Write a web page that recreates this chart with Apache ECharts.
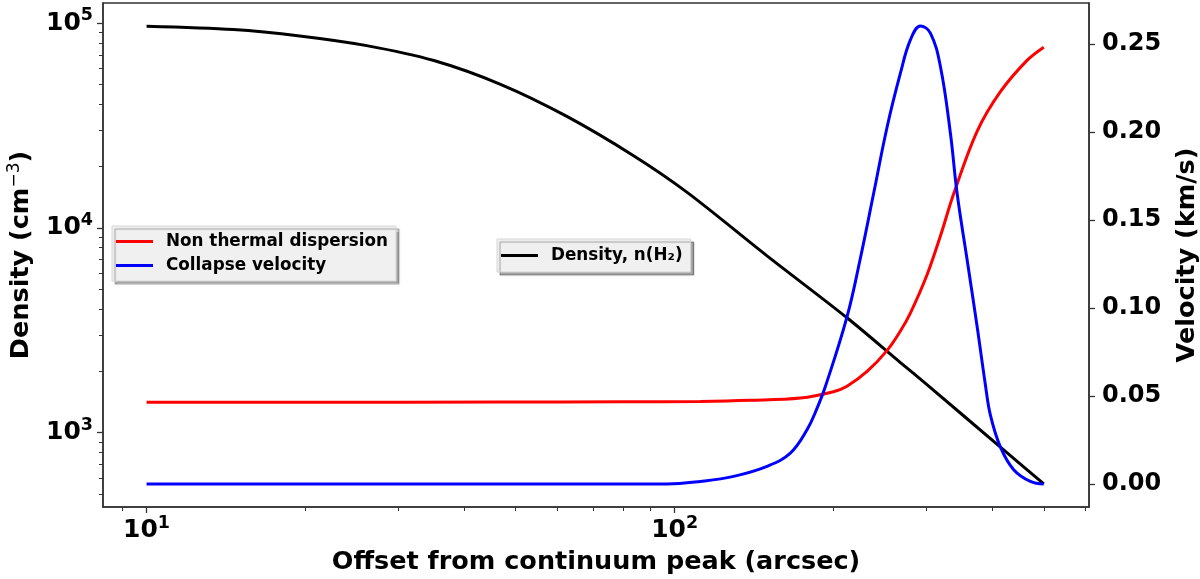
<!DOCTYPE html>
<html lang="en">
<head>
    <meta charset="UTF-8">
    <title>Density and velocity profile</title>
    <script src="https://cdn.jsdelivr.net/npm/echarts@6/dist/echarts.min.js"></script>
    <style>
        *{
            margin: 0;
            padding: 0;
        }
        html,body{
            width: 100%;
            height: 100%;
            background: #fff;
        }
        .main{
            width: 1200px;
            height: 579px;
        }
    </style>
</head>
<body>
<div class="main"></div>
<script>
    // values (offset in arcsec)
    let densityR = [10, 14.6, 19.5, 26.1, 35, 46.8, 62.5, 83.6, 105.6, 149.6, 212, 267.6, 298.5, 413.9, 500];
    let densityN = [96400, 92900, 86500, 77600, 65600, 50200, 35000, 22500, 14900, 7300, 3640, 2200, 1740, 850, 562];

    let dispR = [10, 20, 46.8, 80, 111.9, 139.1, 173, 199.8, 212, 231.4, 252.6, 267.6, 279.5, 300.6, 318.6, 337.6, 373.9, 413.9, 464.9, 500];
    let dispV = [0.0465, 0.0465, 0.0466, 0.0468, 0.0470, 0.0476, 0.0489, 0.0525, 0.0556, 0.0640, 0.0760, 0.0870, 0.0972, 0.1190, 0.1410, 0.1650, 0.2005, 0.2230, 0.2408, 0.2483];

    let collR = [10, 30, 60, 96.7, 111.9, 129.3, 149.6, 165.6, 178.2, 186.1, 193, 212, 224.8, 238.2, 252.6, 267.6, 279.5, 292, 305, 318.6, 332.8, 342.6, 358, 373.9, 387.6, 396.3, 413.9, 438.5, 471.7, 500];
    let collV = [0, 0, 0, 0, 0.0015, 0.0044, 0.0101, 0.0176, 0.0310, 0.0432, 0.0556, 0.0950, 0.1285, 0.1654, 0.2031, 0.2335, 0.2524, 0.2604, 0.2563, 0.2373, 0.1994, 0.1654, 0.1274, 0.0896, 0.0565, 0.0390, 0.0210, 0.0082, 0.0015, 0];

    let xMajor = [10, 100];
    let xMinor = [9, 20, 30, 40, 50, 60, 70, 80, 90, 200, 300, 400, 500, 600];
    let yMajor = [1000, 10000, 100000];
    let yMinor = [500, 600, 700, 800, 900, 2000, 3000, 4000, 5000, 6000, 7000, 8000, 9000,
        20000, 30000, 40000, 50000, 60000, 70000, 80000, 90000];
    let vTicks = [0, 0.05, 0.10, 0.15, 0.20, 0.25];

    let zip = (a, b) => a.map((v, i) => [v, b[i]]);

    let font = 'DejaVu Sans';
    let axisColor = '#333';
    let powLabel = v => '{b|10}{s|' + Math.round(Math.log10(v)) + '}';
    let powRich = {
        b: {fontFamily: font, fontWeight: 'bold', fontSize: 25, color: '#000'},
        s: {fontFamily: font, fontWeight: 'bold', fontSize: 17.5, color: '#000', padding: [0, 0, 15, 0]}
    };

    let main = echarts.init(document.getElementsByClassName('main')[0]);
    let legendBase = {
        orient: 'vertical',
        icon: 'rect',
        itemWidth: 37,
        itemHeight: 3,
        itemGap: 7,
        backgroundColor: '#f0f0f0',
        borderColor: '#d6d6d6',
        borderWidth: 1,
        shadowColor: 'rgba(0,0,0,0.35)',
        shadowBlur: 1,
        shadowOffsetX: 3,
        shadowOffsetY: 3,
        selectedMode: false,
        textStyle: {
            fontFamily: font,
            fontWeight: 'bold',
            fontSize: 16.8,
            lineHeight: 17,
            color: '#000',
            padding: [0, 0, 0, 8]
        }
    };
    let option = {
        animation: false,
        backgroundColor: '#fff',
        grid: {
            left: 103,
            right: 111,
            top: 3,
            bottom: 72,
            outerBoundsMode: 'none',
            containLabel: false,
            show: true,
            borderColor: axisColor,
            borderWidth: 1.5
        },
        legend: [
            Object.assign({}, legendBase, {
                data: ['Non thermal dispersion', 'Collapse velocity'],
                left: 112,
                top: 226,
                padding: [7, 8, 7, 4]
            }),
            Object.assign({}, legendBase, {
                data: ['Density, n(H₂)'],
                left: 497,
                top: 239,
                padding: [8, 8, 8, 4]
            })
        ],
        xAxis: [
            {
                type: 'log',
                logBase: 10,
                min: 8.27,
                max: 609,
                position: 'bottom',
                axisLine: {show: true, onZero: false, lineStyle: {color: axisColor, width: 1.5}},
                axisTick: {show: true, length: 6, customValues: xMajor, lineStyle: {color: axisColor, width: 1.3}},
                axisLabel: {customValues: xMajor, formatter: powLabel, rich: powRich, margin: 7},
                splitLine: {show: false},
                name: 'Offset from continuum peak (arcsec)',
                nameLocation: 'middle',
                nameGap: 42,
                nameTextStyle: {fontFamily: font, fontWeight: 'bold', fontSize: 25.5, color: '#000'}
            },
            {
                type: 'log',
                logBase: 10,
                min: 8.27,
                max: 609,
                position: 'bottom',
                axisLine: {show: false, onZero: false},
                axisTick: {show: true, length: 4, customValues: xMinor, lineStyle: {color: axisColor, width: 1}},
                axisLabel: {show: false},
                splitLine: {show: false}
            }
        ],
        yAxis: [
            {
                type: 'log',
                logBase: 10,
                min: 433.6,
                max: 125300,
                position: 'left',
                axisLine: {show: true, onZero: false, lineStyle: {color: axisColor, width: 1.5}},
                axisTick: {show: true, length: 6, customValues: yMajor, lineStyle: {color: axisColor, width: 1.3}},
                axisLabel: {customValues: yMajor, formatter: powLabel, rich: powRich, margin: 10},
                splitLine: {show: false},
                name: '{t|Density (cm}{s|−3}{t|)}',
                nameLocation: 'middle',
                nameGap: 66,
                nameRotate: 90,
                nameTextStyle: {
                    rich: {
                        t: {fontFamily: font, fontWeight: 'bold', fontSize: 25.5, color: '#000'},
                        s: {fontFamily: font, fontSize: 17, color: '#000', padding: [0, 0, 14, 0]}
                    }
                }
            },
            {
                type: 'value',
                min: -0.01302,
                max: 0.2734,
                position: 'right',
                axisLine: {show: true, onZero: false, lineStyle: {color: axisColor, width: 1.5}},
                axisTick: {show: true, length: 6, customValues: vTicks, lineStyle: {color: axisColor, width: 1.3}},
                axisLabel: {
                    customValues: vTicks,
                    formatter: v => v.toFixed(2),
                    margin: 13,
                    fontFamily: font,
                    fontWeight: 'bold',
                    fontSize: 24,
                    color: '#000'
                },
                splitLine: {show: false},
                name: 'Velocity (km/s)',
                nameLocation: 'middle',
                nameGap: 85,
                nameRotate: 90,
                nameTextStyle: {fontFamily: font, fontWeight: 'bold', fontSize: 25.5, color: '#000'}
            },
            {
                type: 'log',
                logBase: 10,
                min: 433.6,
                max: 125300,
                position: 'left',
                axisLine: {show: false, onZero: false},
                axisTick: {show: true, length: 4, customValues: yMinor, lineStyle: {color: axisColor, width: 1}},
                axisLabel: {show: false},
                splitLine: {show: false}
            }
        ],
        series: [
            {
                name: 'Density, n(H₂)',
                type: 'line',
                xAxisIndex: 0,
                yAxisIndex: 0,
                data: zip(densityR, densityN),
                showSymbol: false,
                smooth: 0.3,
                lineStyle: {color: '#000', width: 3},
                itemStyle: {color: '#000'}
            },
            {
                name: 'Non thermal dispersion',
                type: 'line',
                xAxisIndex: 0,
                yAxisIndex: 1,
                data: zip(dispR, dispV),
                showSymbol: false,
                smooth: 0.35,
                lineStyle: {color: '#ff0000', width: 3},
                itemStyle: {color: '#ff0000'}
            },
            {
                name: 'Collapse velocity',
                type: 'line',
                xAxisIndex: 0,
                yAxisIndex: 1,
                data: zip(collR, collV),
                showSymbol: false,
                smooth: 0.4,
                lineStyle: {color: '#0000ff', width: 3},
                itemStyle: {color: '#0000ff'}
            }
        ]
    };
    main.setOption(option);
</script>
</body>
</html>
